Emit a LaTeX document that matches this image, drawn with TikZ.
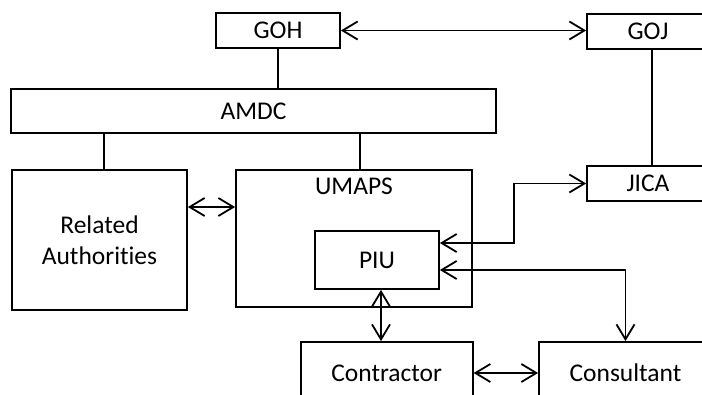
\documentclass[tikz,border=0pt]{standalone}
\usepackage{fontspec}
\setmainfont{Carlito}[RawFeature=-liga]
\usetikzlibrary{arrows.meta}

\begin{document}
\begin{tikzpicture}[
    x=1pt, y=-1pt,
    every node/.style={font=\fontsize{25.5}{30.6}\selectfont},
    box/.style={draw, line width=1.8pt, inner sep=0pt},
    link/.style={line width=1.8pt},
    arr/.style={<->, >={Straight Barb[length=15pt, width=18pt]}, line width=1.8pt},
]
\useasboundingbox (0,0) rectangle (702,394);
\clip (0,0) rectangle (702,394);
\fill[white] (0,0) rectangle (702,394);
% === Top: governments ===
\node[box, minimum width=124pt, minimum height=35pt] (GOH) at (278, 30.5) {GOH};
\node[box, minimum width=122pt, minimum height=35pt] (GOJ) at (648, 31.5) {GOJ};
% === Middle ===
\node[box, minimum width=485pt, minimum height=44pt] (AMDC) at (253.5, 111) {AMDC};
\node[box, minimum width=175pt, minimum height=140pt, align=center] (RA) at (99.5, 240) {Related\\Authorities};
\node[box, minimum width=236pt, minimum height=137pt,
      label={[anchor=north, inner sep=0pt, yshift=-9pt]north:UMAPS}] (UMAPS) at (354, 238.5) {};
\node[box, minimum width=122pt, minimum height=35pt] (JICA) at (648, 183.5) {JICA};
\node[box, minimum width=124pt, minimum height=58pt] (PIU) at (377, 260) {PIU};
% === Bottom ===
\node[box, minimum width=172pt, minimum height=62pt] (Contractor) at (386.7, 373) {Contractor};
\node[box, minimum width=173pt, minimum height=62pt] (Consultant) at (625.5, 373) {Consultant};
% Plain links
\draw[link] (GOH.south) -- (GOH.south |- AMDC.north);
\draw[link] ([xshift=4.5pt]RA.north) -- ([xshift=4.5pt]RA.north |- AMDC.south);
\draw[link] ([xshift=6pt]UMAPS.north) -- ([xshift=6pt]UMAPS.north |- AMDC.south);
\draw[link] ([xshift=4pt]GOJ.south) -- ([xshift=4pt]GOJ.south |- JICA.north);
% Two-way arrows
\draw[arr] (GOH.east) -- (GOH.east -| GOJ.west);
\draw[arr] ([yshift=33pt]RA.east) -- ([yshift=33pt]RA.east -| UMAPS.west);
\draw[arr] ([yshift=17pt]PIU.east) -- ++(74,0) |- (JICA.west);
\draw[arr] ([yshift=-10pt]PIU.east) -| (Consultant.north);
\draw[arr] ([xshift=4pt]PIU.south) -- ([xshift=4pt]PIU.south |- Contractor.north);
\draw[arr] (Contractor.east) -- (Consultant.west);
\end{tikzpicture}
\end{document}
